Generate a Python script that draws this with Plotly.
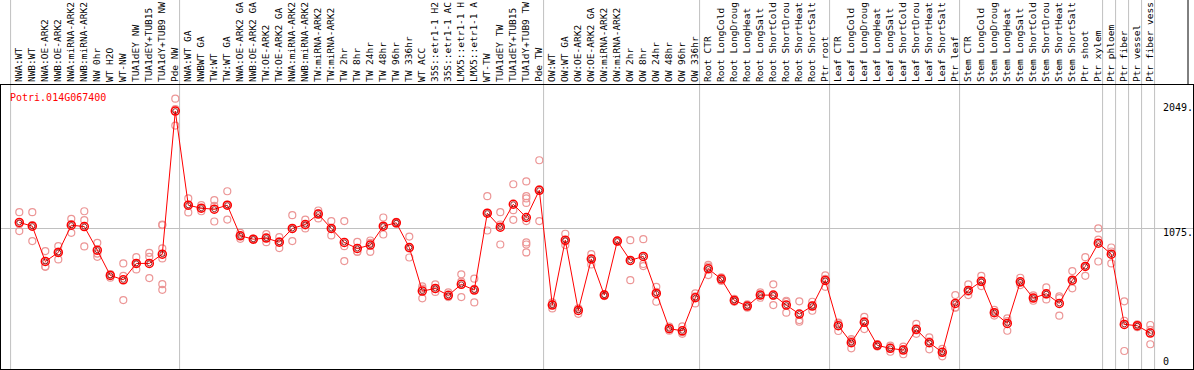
import plotly.graph_objects as go

gene_id = "Potri.014G067400"

labels = [
    "NWA:WT", "NWB:WT", "NWA:OE-ARK2", "NWB:OE-ARK2", "NWA:miRNA-ARK2", "NWB:miRNA-ARK2",
    "NW 0hr", "WT H2O", "WT-NW", "TUA1dEY NW", "TUA1dEY+TUB15", "TUA1dY+TUB9 NW", "Pde NW",
    "NWA:WT GA", "NWBWT GA", "TW:WT", "TW:WT GA", "NWA:OE-ARK2 GA", "NWB:OE-ARK2 GA",
    "TW:OE-ARK2", "TW:OE-ARK2 GA", "NWA:miRNA-ARK2", "NWB:miRNA-ARK2", "TW:miRNA-ARK2",
    "TW:miRNA-ARK2", "TW 2hr", "TW 8hr", "TW 24hr", "TW 48hr", "TW 96hr", "TW 336hr", "WT ACC",
    "35S::etr1-1 H2", "35S::etr1-1 AC", "LMX5::etr1-1 H", "LMX5::etr1-1 A",
    "WT-TW", "TUA1dEY TW", "TUA1dEY+TUB15", "TUA1dY+TUB9 TW", "Pde TW",
    "OW:WT", "OW:WT GA", "OW:OE-ARK2", "OW:OE-ARK2 GA", "OW:miRNA-ARK2", "OW:miRNA-ARK2",
    "OW 2hr", "OW 8hr", "OW 24hr", "OW 48hr", "OW 96hr", "OW 336hr",
    "Root CTR", "Root LongCold", "Root LongDroug", "Root LongHeat", "Root LongSalt",
    "Root ShortCold", "Root ShortDrou", "Root ShortHeat", "Root ShortSalt", "Ptr root",
    "Leaf CTR", "Leaf LongCold", "Leaf LongDroug", "Leaf LongHeat", "Leaf LongSalt",
    "Leaf ShortCold", "Leaf ShortDrou", "Leaf ShortHeat", "Leaf ShortSalt", "Ptr leaf",
    "Stem CTR", "Stem LongCold", "Stem LongDroug", "Stem LongHeat", "Stem LongSalt",
    "Stem ShortCold", "Stem ShortDrou", "Stem ShortHeat", "Stem ShortSalt", "Ptr shoot",
    "Ptr xylem", "Ptr phloem", "Ptr fiber", "Ptr vessel", "Ptr fiber vess",
]

means = [
    1125, 1094, 801, 876, 1102, 1091, 895, 685, 649, 785, 785, 862, 2049,
    1268, 1243, 1235, 1268, 1014, 986, 995, 961, 1075, 1108, 1194,
    1075, 959, 909, 937, 1094, 1122, 917, 555, 577, 520, 611, 564,
    1202, 1086, 1276, 1166, 1392,
    439, 978, 395, 821, 522, 970, 810, 843, 536, 243, 226, 500,
    740, 655, 478, 431, 522, 522, 439, 365, 431, 644,
    268, 127, 296, 105, 80, 66, 238, 127, 47, 453,
    561, 636, 376, 287, 632, 497, 533, 453, 646, 760,
    953, 862, 279, 268, 207,
]

replicates = [
    [1210, 1112, 1053], [1210, 1102, 970], [887, 759, 757], [928, 882, 818],
    [1155, 1112, 1039], [1218, 1144, 926], [956, 867, 840], [696, 693, 666],
    [785, 682, 481], [837, 783, 735], [873, 840, 663],
    [1108, 1102, 909, 826, 613, 566], [2152, 2066, 1929],
    [1324, 1272, 1208], [1268, 1243, 1218], [1310, 1262, 1133], [1384, 1271, 1149],
    [1039, 1014, 989], [990, 986, 982], [1028, 996, 961], [1003, 968, 912],
    [1185, 1070, 970], [1149, 1100, 1075], [1224, 1200, 1158],
    [1136, 1072, 1017], [1136, 928, 804], [964, 882, 881], [975, 955, 881],
    [1166, 1091, 1025], [1130, 1122, 1114], [1008, 909, 834], [594, 576, 495],
    [611, 572, 548], [544, 510, 506], [694, 633, 506], [658, 573, 461],
    [1343, 1205, 1058], [1210, 1108, 942], [1442, 1227, 1147],
    [1465, 1343, 1324, 1287, 1136, 959, 942, 876], [1641, 1399, 1136],
    [461, 445, 411], [1031, 966, 937], [409, 409, 367], [862, 825, 776],
    [530, 522, 514], [975, 970, 965], [978, 805, 646], [986, 780, 763],
    [591, 550, 467], [260, 243, 226], [263, 214, 201], [536, 511, 453],
    [773, 759, 688], [670, 655, 640], [490, 478, 466], [445, 431, 417],
    [544, 522, 500], [611, 516, 439], [475, 466, 376], [470, 315, 301],
    [467, 434, 392], [685, 656, 591],
    [293, 287, 224], [157, 144, 80], [342, 306, 240], [115, 105, 95],
    [102, 86, 52], [94, 73, 31], [284, 229, 201], [171, 138, 72],
    [75, 52, 14], [522, 420, 417],
    [611, 550, 522], [682, 629, 597], [400, 376, 352], [329, 306, 226],
    [666, 625, 605], [520, 497, 475], [586, 527, 486], [511, 497, 351],
    [721, 640, 578], [837, 761, 682],
    [1075, 983, 801], [917, 884, 785], [470, 309, 58], [280, 268, 256], [274, 233, 114],
]

# group boundaries (gridline drawn after these category indices)
group_ends = [0, 13, 41, 53, 63, 73, 84, 85, 86, 87, 88]

y_ticks = [2049, 1075, 0]
grid_value = 1075

cats = list(range(1, len(labels) + 1))
rep_x = [c for c, r in zip(cats, replicates) for _ in r]
rep_y = [v for r in replicates for v in r]

W, H = 1194, 370
ML, MR, MT, MB = 1, 1, 85, 1
plot_w = W - ML - MR
plot_h = H - MT - MB
x0 = -0.408
x1 = x0 + plot_w / 13.0
y0 = -91.3
y1 = 2265.6

FONT = "DejaVu Sans Mono"

fig = go.Figure()
fig.add_trace(go.Scatter(
    x=rep_x, y=rep_y, mode="markers",
    marker=dict(symbol="circle-open", size=7, color="rgb(236,150,150)", line=dict(width=1.2)),
    hoverinfo="skip",
))
fig.add_trace(go.Scatter(
    x=cats, y=means, mode="lines+markers",
    line=dict(color="red", width=1),
    marker=dict(symbol="circle-open", size=8, color="red", line=dict(width=1.5)),
))
fig.add_trace(go.Scatter(
    x=cats, y=means, mode="markers",
    marker=dict(symbol="circle-open", size=5, color="rgb(120,0,0)", line=dict(width=0.8)),
))

shapes = []
for n in group_ends:
    shapes.append(dict(type="line", xref="x", yref="paper",
                       x0=n + 0.33, x1=n + 0.33, y0=-0.01, y1=H / plot_h + 0.01,
                       line=dict(color="#c0c0c0", width=1), layer="below"))
# right edge of label box
shapes.append(dict(type="line", xref="paper", yref="paper",
                   x0=(1188 - ML) / plot_w, x1=(1188 - ML) / plot_w,
                   y0=1.0, y1=(H - MB) / plot_h + 0.01,
                   line=dict(color="black", width=1)))

annotations = [dict(
    text=gene_id, xref="paper", yref="paper",
    x=(7.5 - ML) / plot_w, y=(H - MB - 97) / plot_h,
    xanchor="left", yanchor="middle", showarrow=False,
    font=dict(family=FONT, size=10, color="red"),
)]
shifts = {2049: 3.3, 1075: -3.7, 0: -3.7}
for v in y_ticks:
    annotations.append(dict(
        text=f"{v}." if v else "0", xref="paper", yref="y",
        x=(1161 - ML) / plot_w, y=v, xanchor="left", yanchor="middle",
        yshift=shifts[v], showarrow=False,
        font=dict(family=FONT, size=10, color="black"),
    ))

fig.update_layout(
    width=W, height=H, template="none",
    margin=dict(l=ML, r=MR, t=MT, b=MB, pad=0),
    paper_bgcolor="white", plot_bgcolor="white",
    showlegend=False,
    shapes=shapes, annotations=annotations,
    xaxis=dict(
        range=[x0, x1], side="top", tickmode="array", tickvals=cats, ticktext=labels,
        tickangle=-90, tickfont=dict(family=FONT, size=9.5, color="black"),
        ticks="", showgrid=False, zeroline=False,
        showline=True, linecolor="black", linewidth=1, mirror=True, automargin=False,
    ),
    yaxis=dict(
        range=[y0, y1], tickmode="array", tickvals=[grid_value], showticklabels=False,
        ticks="", showgrid=True, gridcolor="#c0c0c0", gridwidth=1, zeroline=False,
        showline=True, linecolor="black", linewidth=1, mirror=True, automargin=False,
    ),
)

fig.write_html(
    "out.html",
    config={"displayModeBar": False},
    post_script="document.body.style.margin='0';document.body.style.overflow='hidden';",
)
